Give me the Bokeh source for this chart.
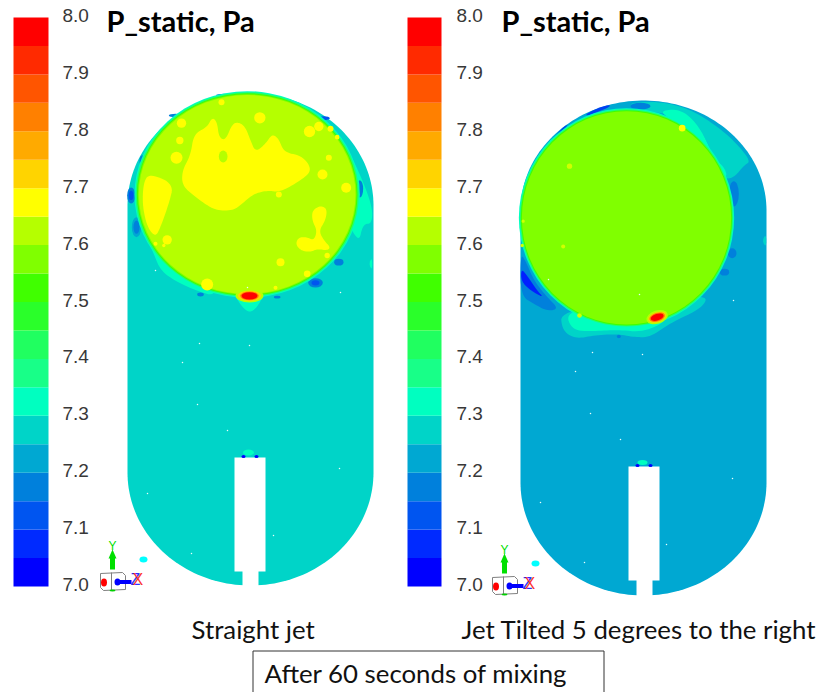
import numpy as np
from bokeh.plotting import figure
from bokeh.models import Range1d
from bokeh.embed import file_html
from bokeh.resources import INLINE
from bokeh.core.properties import value

# ---------- data ----------
band_edges = [round(7.0 + i * 0.05, 2) for i in range(21)]
band_colors = ["#0000ff", "#002aff", "#0055f0", "#0080dc", "#00a8d2", "#00d4c8", "#00ffc0", "#18ff88",
               "#20ff60", "#2aff2a", "#40ff00", "#80ff00", "#b5ff00", "#ffff00", "#ffd400",
               "#ffaa00", "#ff8000", "#ff5500", "#ff2a00", "#ff0000"]
tick_values = [7.0, 7.1, 7.2, 7.3, 7.4, 7.5, 7.6, 7.7, 7.8, 7.9, 8.0]
TEAL, BLUE = "#00d4c8", "#00a8d2"
MINT, SPRING, GREEN, LIME, CHART, YEL = "#00ffc0", "#20ff70", "#40ff00", "#80ff00", "#b5ff00", "#ffff00"

# field regions of the straight-jet panel: crop coordinates of the mesh
L_lobe_right = [(700,190),(735,250),(785,372),(785,430),(757,430),(745,490),(700,400)]
L_lobe_left = [(95,440),(130,520),(150,570),(195,602),(260,632),(320,648),(300,560),(150,470)]
L_tail = [(370,640),(395,680),(418,697),(440,680),(462,640)]
L_main = [(215,270),(240,225),(250,160),(290,140),(305,110),(320,125),(325,170),(345,180),(365,130),(385,125),
          (405,140),(420,180),(435,215),(465,190),(485,160),(505,175),(520,215),(570,225),(595,250),(600,275),
          (570,300),(510,335),(470,330),(430,340),(400,365),(370,390),(320,390),(290,375),(250,345),(215,315)]
L_side = [(120,280),(190,310),(175,370),(150,440),(135,470),(110,440),(95,370),(100,300)]
L_chain = [(605,390),(630,375),(650,385),(645,420),(625,450),(640,480),(660,500),(650,510),(620,505),(600,515),
           (570,510),(555,490),(565,470),(590,470),(610,480),(620,450),(605,420)]
L_blobs = [(448,112,17),(597,153,17),(625,138,14),(660,145,9),(680,170,7),(655,232,9),(636,282,15),(707,322,15),
           (505,342,9),(510,545,12),(170,478,14),(135,490,6),(160,495,5),(290,612,18),(208,180,11),(198,232,18),
           (213,128,14),(333,65,9),(590,580,10),(650,525,8),(495,622,6)]
L_spots = [(62,345,12,24,"#0080dc"),(62,345,7,14,"#0055f0"),(78,440,14,30,"#00a8d2"),(78,440,9,20,"#0080dc"),
           (640,113,18,6,"#0055f0"),(615,607,22,14,"#0080dc"),(615,607,12,8,"#0055f0"),
           (685,545,14,10,"#0080dc"),(270,642,10,6,"#0080dc"),(500,650,10,4,"#0080dc"),(340,44,24,4,"#0080dc"),
           (748,325,10,26,"#0080dc"),(95,240,8,16,"#0080dc"),(195,105,20,5,"#0080dc")]

# field regions of the tilted-jet panel
R_teal = [(375,38),(470,32),(560,52),(640,100),(700,150),(752,212),(730,225),(700,262),(670,265),(640,210),(620,150),(580,100),(500,70),(430,60)]
R_mint = [(470,62),(540,55),(590,100),(625,165),(640,205),(670,228),(682,262),(640,250),(600,160),(540,100)]
R_foot = [(180,660),(185,720),(225,745),(280,735),(350,730),(400,740),(450,740),(505,700),(610,650),(620,610),(400,640)]
R_foot2 = [(195,665),(215,720),(280,722),(350,718),(430,725),(505,688),(470,640),(300,650)]
R_lobe = [(60,490),(75,510),(100,570),(140,620),(175,655),(140,662),(100,640),(60,615)]
R_lobe_dark = [(62,535),(80,555),(110,600),(130,622),(90,600),(62,572)]
R_spots = [(700,310,15,38,"#0080dc"),(695,488,13,15,"#0080dc"),(672,545,14,10,"#0080dc"),(420,47,30,10,"#0080dc"),
           (355,738,6,5,"#0080dc")]
R_slivers = [[(255,72),(285,55),(325,42),(330,48),(290,65),(262,76)],
             [(165,135),(190,108),(205,102),(180,125),(170,140)],
             [(125,195),(138,170),(142,175),(130,198)]]
R_dots = [(545,113,10,"#ffff00"),(207,227,8,"#d0ff00"),(188,468,6,"#d0ff00"),(237,675,7,"#d0ff00"),
          (68,392,5,"#d0ff00"),(65,465,5,"#d0ff00")]
R_bump = [(797,430),(785,450),(797,472)]
L_bump = [(785,530),(775,550),(785,570)]

L_specks = [(199,343),(249,345),(182,362),(197,404),(227,430),(147,493),(191,553),(273,535),(339,468),(155,270),(340,292),(247,287)]
R_specks = [(592,352),(642,354),(575,371),(590,413),(620,439),(540,502),(584,562),(666,544),(732,478),(548,279),(733,300),(639,294)]

title_text = "P_static, Pa"
caption_left = "Straight jet"
caption_right = "Jet Tilted 5 degrees to the right"
caption_box = "After 60 seconds of mixing"

# ---------- helpers ----------
def smooth(pts, n=3):
    a = np.array(pts, float)
    for _ in range(n):
        b = np.roll(a, -1, axis=0)
        a = np.column_stack([0.75*a+0.25*b, 0.25*a+0.75*b]).reshape(-1, 2)
    return a

p = figure(width=818, height=692, x_range=Range1d(0, 818), y_range=Range1d(692, 0),
           output_backend="svg", toolbar_location=None, min_border=0, outline_line_color=None)
p.axis.visible = False
p.grid.visible = False
p.background_fill_color = "white"
p.border_fill_color = "white"

# colour-bar scale: 7.0 and 8.0 sit at the ends of the bar
bar_bottom, bar_top = 586.0, 17.0
per_unit = bar_bottom - bar_top
p.extra_y_ranges = {"bar": Range1d(7 - (692 - bar_bottom) / per_unit, 7 + (bar_bottom - 0) / per_unit)}

def colorbar(x0, x1, tx):
    p.quad(left=x0, right=x1, bottom=band_edges[:-1], top=band_edges[1:], fill_color=band_colors,
           line_color=None, y_range_name="bar")
    p.text(x=[tx]*len(tick_values), y=tick_values, y_offset=-2, text=[f"{t:.1f}" for t in tick_values],
           y_range_name="bar", text_font=value("Liberation Sans"), text_font_size="19px",
           text_color="#383838", text_align="left", text_baseline="middle")

colorbar(13, 48, 62)
colorbar(407, 441, 456)

def tank(cx, rx, top, shoulder, low, bottom, color):
    t = np.linspace(np.pi, 2*np.pi, 90)
    xs = np.r_[cx + rx*np.cos(t), (cx + rx*np.cos(t))[::-1]]
    ys = np.r_[shoulder + (shoulder-top)*np.sin(t), low - (bottom-low)*np.sin(t)[::-1]]
    p.patch(xs, ys, fill_color=color, line_color=None)

def panel(ox, oy):
    def area(pts, color, n=3):
        a = smooth(pts, n)
        p.patch(ox + a[:, 0]/3, oy + a[:, 1]/3, fill_color=color, line_color=None)
    def oval(cx, cy, w, h, color, angle=0.0):
        p.ellipse(x=ox + cx/3, y=oy + cy/3, width=w/3, height=h/3, fill_color=color, line_color=None, angle=angle)
    return area, oval

def pipe(cx_left, top, shoulder, bottom):
    p.quad(left=cx_left, right=cx_left+31, top=top, bottom=shoulder, fill_color="white", line_color=None)
    p.quad(left=cx_left+8, right=cx_left+24, top=shoulder-1, bottom=bottom+2, fill_color="white", line_color=None)

def triad(dx, dy):
    p.multi_line([[100+dx,122+dx,125+dx,125+dx,103+dx,100+dx,100+dx],[111+dx,111+dx]],
                 [[573+dy,572+dy,575+dy,589+dy,590+dy,587+dy,573+dy],[572+dy,590+dy]],
                 line_color="#808080", line_width=1)
    p.quad(left=109.5+dx, right=114.5+dx, top=556+dy, bottom=569+dy, fill_color="#00e000", line_color=None)
    p.patch([112+dx,108+dx,116+dx],[549+dy,558+dy,558+dy], fill_color="#00e000", line_color=None)
    p.ellipse(x=112+dx, y=590+dy, width=6, height=2, fill_color="#00d000", line_color=None)
    p.ellipse(x=103.5+dx, y=582+dy, width=6, height=8, fill_color="#ff0000", line_color=None)
    p.ellipse(x=117+dx, y=581.5+dy, width=6, height=7, fill_color="#0000ff", line_color=None)
    p.quad(left=117+dx, right=131+dx, top=579.5+dy, bottom=583.5+dy, fill_color="#0000ff", line_color=None)
    p.text(x=[112+dx], y=[545+dy], text=["Y"], text_color="#00e000", text_font=value("Liberation Sans"),
           text_font_size="12px", text_align="center", text_baseline="middle")
    p.text(x=[130+dx], y=[579+dy], text=["Z"], text_color="#3030ff", text_font=value("Liberation Sans"),
           text_font_size="16px", text_align="left", text_baseline="middle")
    p.text(x=[132+dx], y=[579+dy], text=["X"], text_color="#ff3030", text_font=value("Liberation Sans"),
           text_font_size="16px", text_align="left", text_baseline="middle")

# ---------- straight-jet panel ----------
tank(250, 123, 93, 205, 472, 585, TEAL)
area, oval = panel(110, 80)
area(L_lobe_right, MINT); area(L_lobe_left, MINT); area(L_tail, MINT, 2); area(L_bump, MINT, 2)
for cx, cy, w, h, c in L_spots:
    oval(cx, cy, 2*w, 2*h, c)
oval(410, 342, 676, 620, MINT)
oval(410, 342, 670, 614, SPRING)
oval(410, 342, 662, 608, GREEN)
oval(410, 342, 656, 602, LIME)
oval(410, 342, 650, 597, CHART)
area(L_main, YEL); area(L_side, YEL); area(L_chain, YEL)
for cx, cy, r in L_blobs:
    oval(cx, cy, 2*r, 2*r, YEL)
oval(338, 228, 26, 36, CHART)
oval(417, 646, 84, 40, "#b5ff00")
oval(417, 646, 70, 32, "#ffd400")
oval(417, 646, 56, 26, "#ff8000")
oval(417, 646, 48, 22, "#ff0000")
pipe(234, 457, 571, 585)
p.ellipse(x=[248], y=[452], width=11, height=6, fill_color=MINT, line_color=None)
p.ellipse(x=[243, 256], y=[456, 456], width=4, height=3, fill_color="#0000ff", line_color=None)
p.scatter([s[0] for s in L_specks], [s[1] for s in L_specks], size=1.5, color="#e8fffc", line_color=None)

# ---------- tilted-jet panel ----------
tank(643, 123, 100, 210, 482, 595, BLUE)
area, oval = panel(500, 90)
area(R_teal, TEAL); area(R_mint, MINT); area(R_bump, TEAL, 2)
area(R_foot, TEAL); area(R_foot2, MINT)
area(R_lobe, "#0080dc"); area(R_lobe_dark, "#0020ff", 2)
for s in R_slivers:
    area(s, "#0040f0", 2)
for cx, cy, w, h, c in R_spots:
    oval(cx, cy, 2*w, 2*h, c)
oval(378, 382, 646, 658, MINT)
oval(378, 382, 640, 652, SPRING)
oval(378, 382, 634, 646, GREEN)
oval(378, 382, 628, 640, LIME)
for cx, cy, r, c in R_dots:
    oval(cx, cy, 2*r, 2*r, c)
oval(470, 680, 66, 40, "#b5ff00", 0.3)
oval(470, 680, 56, 30, "#ffd400", 0.3)
oval(470, 680, 48, 26, "#ff8000", 0.3)
oval(470, 680, 40, 20, "#ff0000", 0.3)
pipe(628, 466, 580, 595)
p.ellipse(x=[642], y=[462], width=10, height=5, fill_color=MINT, line_color=None)
p.ellipse(x=[637, 650], y=[465, 465], width=4, height=3, fill_color="#0000ff", line_color=None)
p.scatter([s[0] for s in R_specks], [s[1] for s in R_specks], size=1.5, color="#e8fffc", line_color=None)

triad(0, 0)
triad(392, 4)
p.ellipse(x=[143, 535], y=[559, 563], width=8, height=6, fill_color="#00ffff", line_color=None)

# ---------- texts ----------
def label(x, y, s, size, style="normal", color="#111111"):
    p.text(x=[x], y=[y], text=[s], text_font=value("Lato"), text_font_size=size, text_font_style=style,
           text_color=color, text_align="left", text_baseline="alphabetic")

label(106, 20, title_text, "29px", "bold", "#000000")
label(501, 20, title_text, "29px", "bold", "#000000")
label(191, 628, caption_left, "25.8px")
label(461, 628, caption_right, "25.8px")
p.multi_line([[252.5, 252.5, 603.5, 603.5]], [[692, 650.5, 650.5, 692]], line_color="#333333", line_width=1)
label(264, 672, caption_box, "25.8px")

open("out.html", "w").write(file_html(p, INLINE))
